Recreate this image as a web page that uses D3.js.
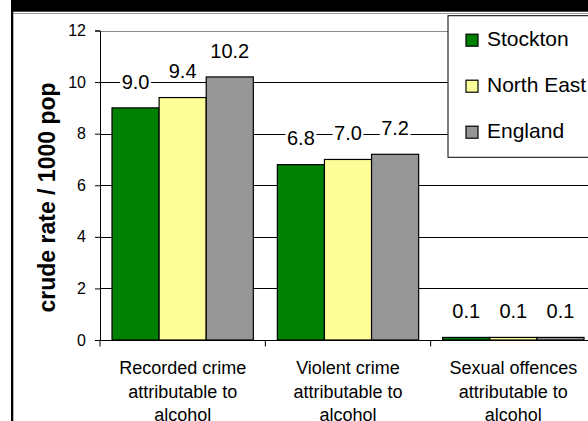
<!DOCTYPE html>
<html>
<head>
<meta charset="utf-8">
<script src="https://cdn.jsdelivr.net/npm/d3@7/dist/d3.min.js"></script>
<style>
  html, body { margin: 0; padding: 0; background: #fff; }
  svg { display: block; font-family: Arial, "Liberation Sans", sans-serif; }
</style>
</head>
<body>
<svg id="chart" width="588" height="421"></svg>
<script>
// Alcohol-attributable crime rates, crude rate per 1000 population
const categories = [
  "Recorded crime attributable to alcohol",
  "Violent crime attributable to alcohol",
  "Sexual offences attributable to alcohol"
];
const categoryLines = [
  ["Recorded crime", "attributable to", "alcohol"],
  ["Violent crime", "attributable to", "alcohol"],
  ["Sexual offences", "attributable to", "alcohol"]
];
const seriesNames = ["Stockton", "North East", "England"];
const stockton  = [9.0, 6.8, 0.1];
const northEast = [9.4, 7.0, 0.1];
const england   = [10.2, 7.2, 0.1];
const seriesColors = ["#008000", "#FFFF99", "#969696"];
const yTicks = [0, 2, 4, 6, 8, 10, 12];
const yTitle = "crude rate / 1000 pop";

const seriesValues = [stockton, northEast, england];

const svg = d3.select("#chart");
const W = 588, H = 421;

// outer frame: black band at top, thin black rule on the left
svg.append("rect").attr("x", 11).attr("y", 0).attr("width", W - 11).attr("height", 11.7).attr("fill", "#000");
svg.append("rect").attr("x", 11).attr("y", 0).attr("width", 2.3).attr("height", H).attr("fill", "#000");
svg.append("line").attr("x1", 13).attr("x2", W).attr("y1", 13.5).attr("y2", 13.5)
  .attr("stroke", "#9a9a9a").attr("stroke-width", 1);

// scales
const x0 = d3.scaleBand().domain(categories).range([100, 596]).paddingInner(0).paddingOuter(0);
const x1 = d3.scaleBand().domain(seriesNames).range([0, x0.bandwidth()]).paddingInner(0).paddingOuter(0.255);
const y = d3.scaleLinear().domain([0, 12]).range([340, 30.5]);
const color = d3.scaleOrdinal().domain(seriesNames).range(seriesColors);

// gridlines
const grid = svg.append("g");
yTicks.filter(t => t > 0).forEach(t => {
  grid.append("line")
    .attr("x1", 100).attr("x2", W)
    .attr("y1", Math.round(y(t)) + 0.5).attr("y2", Math.round(y(t)) + 0.5)
    .attr("stroke", t === 12 ? "#8c8c8c" : "#000").attr("stroke-width", 1);
});

// bars
const rows = categories.map((c, i) => ({
  cat: c,
  vals: seriesNames.map((s, j) => ({ series: s, value: seriesValues[j][i] }))
}));

const groups = svg.append("g").selectAll("g").data(rows).join("g")
  .attr("transform", d => `translate(${x0(d.cat)},0)`);

groups.selectAll("rect").data(d => d.vals).join("rect")
  .attr("x", d => x1(d.series))
  .attr("y", d => y(d.value))
  .attr("width", x1.bandwidth())
  .attr("height", d => y(0) - y(d.value))
  .attr("fill", d => color(d.series))
  .attr("stroke", "#000").attr("stroke-width", 1.2);

// value labels with white backing
const labelLayer = svg.append("g");
rows.forEach(r => {
  r.vals.forEach(v => {
    const cx = x0(r.cat) + x1(v.series) + x1.bandwidth() / 2;
    const cy = y(v.value) - 26.5;
    const g = labelLayer.append("g");
    const bg = g.append("rect").attr("fill", "#fff");
    const t = g.append("text")
      .attr("x", cx).attr("y", cy).attr("dy", "0.36em")
      .attr("text-anchor", "middle")
      .attr("font-size", 20).attr("fill", "#000")
      .text(d3.format(".1f")(v.value));
    const bb = t.node().getBBox();
    bg.attr("x", bb.x - 1.5).attr("y", cy - 8).attr("width", bb.width + 3).attr("height", 16);
  });
});

// y axis
const yAxis = svg.append("g").attr("transform", "translate(100,0)")
  .call(d3.axisLeft(y).tickValues(yTicks).tickFormat(d3.format("d")).tickSize(5).tickPadding(9));
yAxis.select(".domain").attr("stroke", "#000");
yAxis.selectAll(".tick line").attr("stroke", "#000");
yAxis.selectAll(".tick text").attr("font-size", 16).attr("fill", "#000")
  .attr("font-family", "Arial, 'Liberation Sans', sans-serif");

// x axis
const xAxisY = Math.round(y(0)) + 0.5;
svg.append("line").attr("x1", 95).attr("x2", W).attr("y1", xAxisY).attr("y2", xAxisY)
  .attr("stroke", "#000").attr("stroke-width", 1);
const bounds = categories.map(c => x0(c)).concat([x0.range()[1]]);
bounds.forEach(bx => {
  svg.append("line").attr("x1", bx).attr("x2", bx).attr("y1", xAxisY).attr("y2", xAxisY + 6)
    .attr("stroke", "#000").attr("stroke-width", 1);
});

// category labels
const catBaselines = [374, 397.5, 421];
categories.forEach((c, i) => {
  const t = svg.append("text")
    .attr("x", x0(c) + x0.bandwidth() / 2)
    .attr("text-anchor", "middle").attr("font-size", 18).attr("fill", "#000");
  categoryLines[i].forEach((ln, k) => {
    t.append("tspan").attr("x", x0(c) + x0.bandwidth() / 2).attr("y", catBaselines[k]).text(ln);
  });
});

// y title
svg.append("text")
  .attr("transform", "translate(55,197.5) rotate(-90)")
  .attr("text-anchor", "middle")
  .attr("font-size", 23).attr("font-weight", "bold").attr("fill", "#000")
  .text(yTitle);

// legend
const legend = svg.append("g");
legend.append("rect").attr("x", 448).attr("y", 15.7).attr("width", 160).attr("height", 141.6)
  .attr("fill", "#fff").attr("stroke", "#000").attr("stroke-width", 1);
const legendBase = [45.7, 91.7, 137.7];
seriesNames.forEach((s, i) => {
  legend.append("rect").attr("x", 466).attr("y", legendBase[i] - 11.5).attr("width", 12).attr("height", 12)
    .attr("fill", color(s)).attr("stroke", "#000").attr("stroke-width", 1.2);
  legend.append("text").attr("x", 487).attr("y", legendBase[i])
    .attr("font-size", 21).attr("fill", "#000").text(s);
});
</script>
</body>
</html>
